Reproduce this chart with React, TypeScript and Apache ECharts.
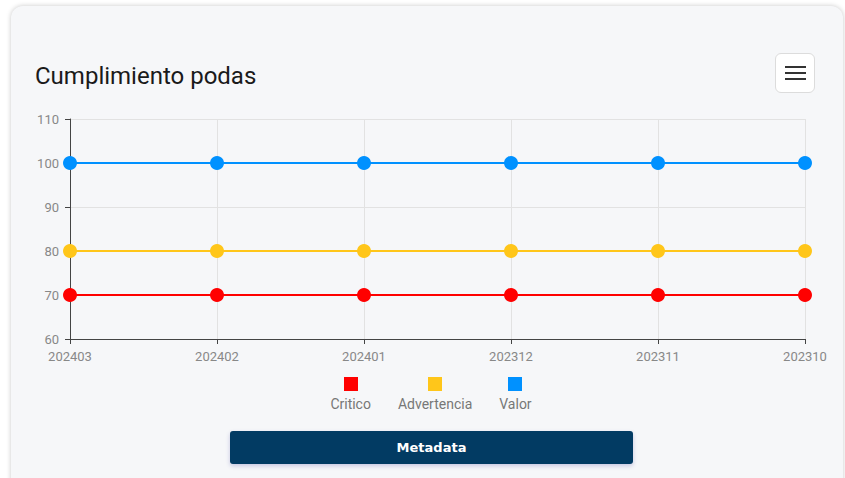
import React, { useEffect, useRef } from "react";
import * as echarts from "echarts";

const categories = ["202403", "202402", "202401", "202312", "202311", "202310"];
const critico = [70, 70, 70, 70, 70, 70];
const advertencia = [80, 80, 80, 80, 80, 80];
const valor = [100, 100, 100, 100, 100, 100];
const seriesNames = ["Critico", "Advertencia", "Valor"];
const seriesColors = ["#ff0000", "#ffc61a", "#0091ff"];
const seriesData = [critico, advertencia, valor];
const yMin = 60;
const yMax = 110;
const yInterval = 10;

export default function App() {
  const ref = useRef<HTMLDivElement>(null);
  useEffect(() => {
    if (!ref.current) return;
    const chart = echarts.init(ref.current, null, { renderer: "svg" });
    chart.setOption({
      animation: false,
      title: {
        text: "Cumplimiento podas",
        left: 35,
        top: 64,
        padding: 0,
        textStyle: { fontFamily: "Roboto", fontSize: 24, fontWeight: "normal", color: "#1a1a1a" },
      },
      legend: { show: false },
      grid: { left: 70, right: 40, top: 119, bottom: 139, containLabel: false },
      xAxis: {
        type: "category",
        data: categories,
        boundaryGap: false,
        axisLine: { lineStyle: { color: "#444", width: 1 } },
        axisTick: { show: true, length: 5, lineStyle: { color: "#444" } },
        axisLabel: { color: "#888", fontFamily: "Roboto", fontSize: 13, margin: 11 },
        splitLine: { show: true, lineStyle: { color: "#e2e2e2" } },
      },
      yAxis: {
        type: "value",
        min: yMin,
        max: yMax,
        interval: yInterval,
        axisLine: { show: true, lineStyle: { color: "#444", width: 1 } },
        axisTick: { show: true, length: 5, lineStyle: { color: "#444" } },
        axisLabel: { color: "#888", fontFamily: "Roboto", fontSize: 13, margin: 11 },
        splitLine: { show: true, lineStyle: { color: "#e2e2e2" } },
      },
      series: seriesNames.map((name, i) => ({
        name,
        type: "line",
        data: seriesData[i],
        symbol: "circle",
        symbolSize: 14,
        lineStyle: { color: seriesColors[i], width: 2 },
        itemStyle: { color: seriesColors[i] },
        z: 3 + i,
      })),
    });
    return () => chart.dispose();
  }, []);

  return (
    <div style={{ position: "absolute", left: 0, top: 0, width: 845, height: 478, overflow: "hidden", background: "#fff" }}>
      <div
        style={{
          position: "absolute",
          left: 11,
          top: 6,
          width: 832,
          height: 490,
          borderRadius: 12,
          background: "#f6f7f9",
          boxShadow: "0 0 5px rgba(0,0,0,0.22)",
        }}
      />
      <div ref={ref} style={{ position: "absolute", left: 0, top: 0, width: 845, height: 478 }} />
      <div
        style={{
          position: "absolute",
          left: 775,
          top: 53,
          width: 40,
          height: 40,
          boxSizing: "border-box",
          background: "#fff",
          border: "1px solid #dcdcdc",
          borderRadius: 6,
          display: "flex",
          flexDirection: "column",
          alignItems: "center",
          justifyContent: "center",
          gap: 4,
        }}
      >
        {[0, 1, 2].map((k) => (
          <div key={k} style={{ width: 21, height: 2, background: "#333" }} />
        ))}
      </div>
      <div
        style={{
          position: "absolute",
          left: 0,
          top: 377,
          width: 862,
          display: "flex",
          justifyContent: "center",
          gap: 27,
          fontFamily: "Roboto",
          fontSize: 14,
          color: "#777",
        }}
      >
        {seriesNames.map((n, i) => (
          <div key={n} style={{ display: "flex", flexDirection: "column", alignItems: "center" }}>
            <div style={{ width: 14, height: 14, background: seriesColors[i] }} />
            <div style={{ marginTop: 5, lineHeight: "16px" }}>{n}</div>
          </div>
        ))}
      </div>
      <div
        style={{
          position: "absolute",
          left: 230,
          top: 431,
          width: 403,
          height: 33,
          background: "#023b63",
          borderRadius: 3,
          boxShadow: "0 2px 4px rgba(60,60,160,0.25)",
          color: "#fff",
          fontFamily: "DejaVu Sans",
          fontWeight: 700,
          fontSize: 13,
          display: "flex",
          alignItems: "center",
          justifyContent: "center",
        }}
      >
        Metadata
      </div>
    </div>
  );
}
